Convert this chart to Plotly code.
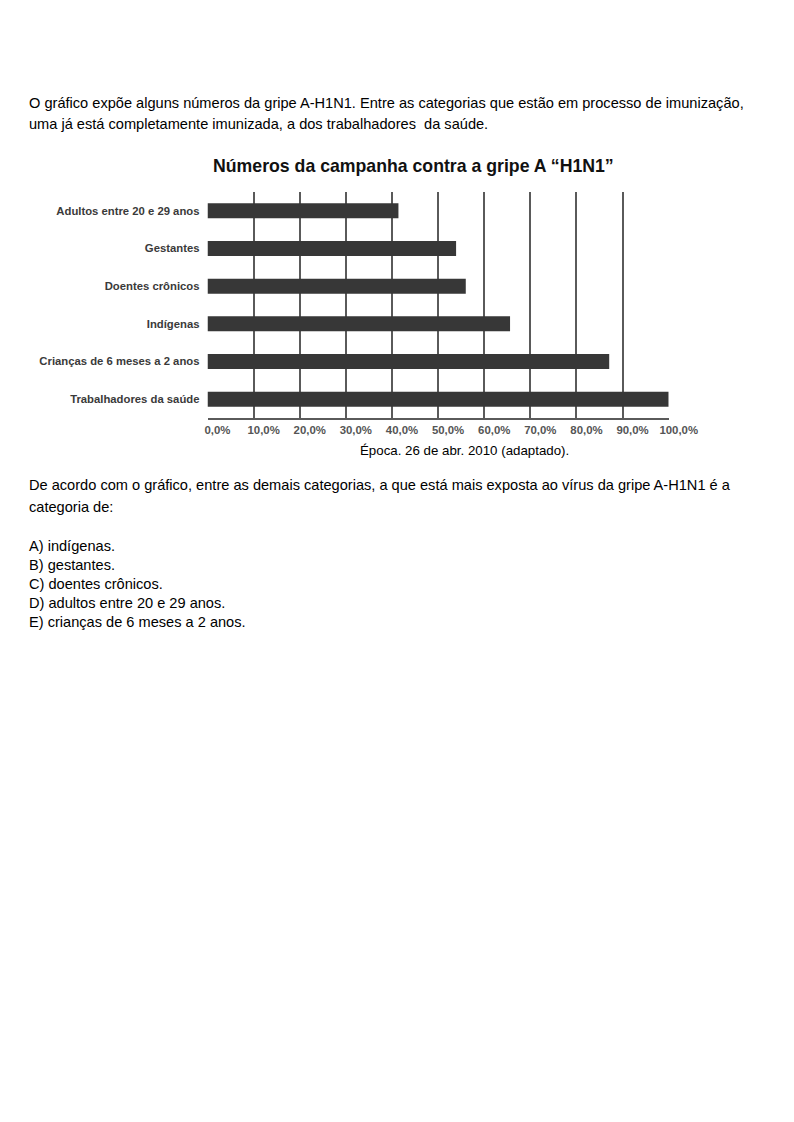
import plotly.graph_objects as go

W, H = 794, 1122
OFF = 8  # page body margin of the html document

categories = [
    "Adultos entre 20 e 29 anos",
    "Gestantes",
    "Doentes crônicos",
    "Indígenas",
    "Crianças de 6 meses a 2 anos",
    "Trabalhadores da saúde",
]
values = [41.4, 53.9, 56.0, 65.6, 87.1, 100.0]
tick_values = [0, 10, 20, 30, 40, 50, 60, 70, 80, 90, 100]

title_text = "Números da campanha contra a gripe A “H1N1”"
source_text = "Época. 26 de abr. 2010 (adaptado)."
intro_lines = [
    "O gráfico expõe alguns números da gripe A-H1N1. Entre as categorias que estão em processo de imunização,",
    "uma já está completamente imunizada, a dos trabalhadores  da saúde.",
]
question_lines = [
    "De acordo com o gráfico, entre as demais categorias, a que está mais exposta ao vírus da gripe A-H1N1 é a",
    "categoria de:",
]
options = [
    "A) indígenas.",
    "B) gestantes.",
    "C) doentes crônicos.",
    "D) adultos entre 20 e 29 anos.",
    "E) crianças de 6 meses a 2 anos.",
]


def px_x(x):
    return (x - OFF) / W


def px_y(y):
    return 1 - (y - OFF) / H


fig = go.Figure()
fig.add_trace(go.Bar(
    x=values,
    y=categories,
    orientation="h",
    marker=dict(color="#373737", line=dict(width=0)),
    hoverinfo="skip",
))

plot_left, plot_right = 207.5, 668.7
plot_top, plot_bottom = 192, 418

fig.update_layout(
    width=W,
    height=H,
    margin=dict(l=0, r=0, t=0, b=0, autoexpand=False),
    paper_bgcolor="white",
    plot_bgcolor="white",
    showlegend=False,
    separators=",.",
    bargap=0.6,
    font=dict(family="Liberation Sans, Arial, sans-serif", color="#000"),
    xaxis=dict(
        domain=[px_x(plot_left), px_x(plot_right)],
        range=[0, 100],
        automargin=False,
        tickmode="array",
        tickvals=tick_values,
        ticktext=[f"<b>{v:.1f}%</b>".replace(".", ",") for v in tick_values],
        ticklabelshift=10,
        showgrid=True,
        gridcolor="#5a5a5a",
        gridwidth=2,
        zeroline=False,
        showline=True,
        linecolor="#5a5a5a",
        linewidth=2,
        ticks="",
        tickfont=dict(size=11.4, color="#555"),
        fixedrange=True,
    ),
    yaxis=dict(
        domain=[px_y(plot_bottom), px_y(plot_top)],
        autorange="reversed",
        automargin=False,
        showgrid=False,
        zeroline=False,
        showline=False,
        ticks="",
        ticklabelstandoff=7,
        tickfont=dict(size=11.3, color="#3a3a3a"),
        tickmode="array",
        tickvals=categories,
        ticktext=[f"<b>{c}</b>" for c in categories],
        fixedrange=True,
    ),
)

annotations = []


def add_text(text, x, y, size=14.6, xanchor="left", bold=False, color="#000"):
    if xanchor == "left":
        x = x - 2
    annotations.append(dict(
        text=f"<b>{text}</b>" if bold else text,
        x=px_x(x), y=px_y(y), xref="paper", yref="paper",
        xanchor=xanchor, yanchor="middle", showarrow=False,
        font=dict(size=size, color=color, family="Liberation Sans, Arial, sans-serif"),
    ))


for i, line in enumerate(intro_lines):
    add_text(line, 28.5, 103 + i * 21)

add_text(title_text, 413, 166, size=17.7, xanchor="center", bold=True, color="#111")
add_text(source_text, 464, 451, size=13.3, xanchor="center")

for i, line in enumerate(question_lines):
    add_text(line, 28.5, 485.5 + i * 21)

for i, line in enumerate(options):
    add_text(line, 28.5, 545.5 + i * 19)

fig.update_layout(annotations=annotations)

fig.write_html("out.html", config={"displayModeBar": False})
